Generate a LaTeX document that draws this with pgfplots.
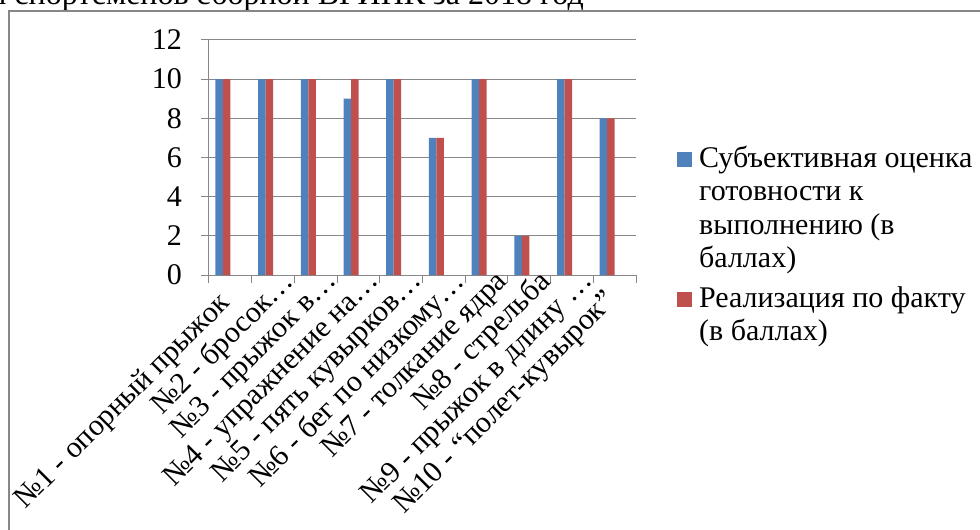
\documentclass[border=0pt]{standalone}
\usepackage{pgfplots}
\pgfplotsset{compat=1.18}
\usepackage{fontspec}
\setmainfont{Liberation Serif}

\definecolor{serA}{HTML}{4F81BD}
\definecolor{serB}{HTML}{C0504D}
\definecolor{gridgray}{HTML}{878787}

% subjective readiness score vs. actual result, per test
\pgfplotstableread{
n  subj  fact
1  10    10
2  10    10
3  10    10
4  9     10
5  10    10
6  7     7
7  10    10
8  2     2
9  10    10
10 8     8
}\scores

\newcommand{\chartfont}{\fontsize{30pt}{33.5pt}\selectfont}

\begin{document}
\chartfont
\begin{tikzpicture}[x=1pt,y=1pt]
\path[use as bounding box] (0,0) rectangle (980,530);
\clip (0,0) rectangle (980,530);

% heading line (cut by the top edge)
\node[anchor=base east, inner sep=0pt, font=\fontsize{32pt}{36pt}\selectfont] at (584,525.5) {готовности спортсменов сборной ВГИПК за 2018 год};

% chart frame
\draw[gridgray, line width=2.2pt] (9,-10) -- (9,518.8) -- (995,518.8);

\begin{axis}[
  at={(209pt,255pt)}, anchor=south west,
  scale only axis, width=427pt, height=235pt,
  xmin=0.5, xmax=10.5, ymin=0, ymax=12,
  axis x line*=bottom, axis y line*=left,
  axis line style={gridgray, line width=1pt, -},
  ybar, bar width=7.5pt,
  ytick={0,2,...,12},
  ymajorgrids, grid style={gridgray, line width=1pt},
  xtick={0.5,1.5,...,10.5}, xticklabels={},
  tick align=outside, major tick length=8pt,
  tick style={gridgray, line width=1pt},
  /pgf/number format/assume math mode=true,
  yticklabel style={font=\chartfont, xshift=-9pt},
  extra x ticks={1,2,...,10},
  extra x tick style={major tick length=0pt, grid=none,
    xticklabel style={font=\chartfont, rotate=45, anchor=east, inner sep=0pt, yshift=-14pt, xshift=10pt}},
  extra x tick labels={%
    №1 - опорный прыжок\hspace*{30pt},
    №2 - бросок…,
    №3 - прыжок в…,
    №4 - упражнение на…,
    №5 - пять кувырков…,
    №6 - бег по низкому…,
    №7 - толкание ядра,
    №8 - стрельба,
    №9 - прыжок в длину …,
    №10 - “полет-кувырок”\hspace*{28pt}},
  legend style={at={(1.096,0.5595)}, anchor=north west, draw=none,
    font=\chartfont, cells={align=left, anchor=west},
    row sep=10pt, inner sep=0pt, column sep=5pt},
]
\addplot[fill=serA, draw=none, bar shift=-11.2pt,
  legend image code/.code={\fill[serA] (0pt,42pt) rectangle (15pt,57pt);}]
  table[x=n, y=subj] {\scores};
\addlegendentry{Субъективная оценка\\готовности к\\выполнению (в\\баллах)}
\addplot[fill=serB, draw=none, bar shift=-3.7pt,
  legend image code/.code={\fill[serB] (0pt,9pt) rectangle (15pt,24pt);}]
  table[x=n, y=fact] {\scores};
\addlegendentry{Реализация по факту\\(в баллах)}
\end{axis}
\end{tikzpicture}
\end{document}
